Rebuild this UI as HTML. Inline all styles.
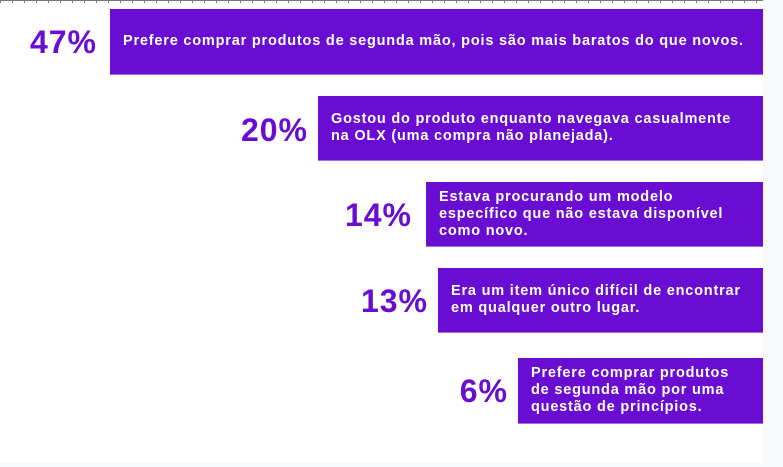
<!DOCTYPE html>
<html><head><style>
body{margin:0;width:783px;height:467px;background:#f7f8fa;position:relative;overflow:hidden;font-family:"Liberation Sans",sans-serif}
#main{position:absolute;left:0;top:0;width:763px;height:463px;background:#fff}
#ticks{position:absolute;left:0;top:0;width:763px;height:3px;background:repeating-linear-gradient(90deg,#777 0 1px,transparent 1px 12px);border-top:1px solid #777;box-sizing:border-box}
.bar{position:absolute;right:0;background:#6a0dd2;color:#fff;font-weight:bold;font-size:14.5px;letter-spacing:0.8px;line-height:17px;display:flex;align-items:center;padding-left:13px;box-sizing:border-box;border-bottom:1px solid #a070e0;white-space:nowrap}
.pct{position:absolute;color:#6a0dd2;font-weight:bold;font-size:32px;letter-spacing:1px;text-align:right;width:100px}
</style></head><body>
<div id="main"><div id="ticks"></div>
<div class="pct" style="left:-3px;top:24px">47%</div>
<div class="bar" style="left:110px;top:9px;height:66px">Prefere comprar produtos de segunda mão, pois são mais baratos do que novos.</div>
<div class="pct" style="left:208px;top:112px">20%</div>
<div class="bar" style="left:318px;top:96px;height:65px">Gostou do produto enquanto navegava casualmente<br>na OLX (uma compra não planejada).</div>
<div class="pct" style="left:312px;top:197px">14%</div>
<div class="bar" style="left:426px;top:182px;height:65px">Estava procurando um modelo<br>específico que não estava disponível<br>como novo.</div>
<div class="pct" style="left:328px;top:283px">13%</div>
<div class="bar" style="left:438px;top:268px;height:65px">Era um item único difícil de encontrar<br>em qualquer outro lugar.</div>
<div class="pct" style="left:408px;top:373px">6%</div>
<div class="bar" style="left:518px;top:358px;height:66px">Prefere comprar produtos<br>de segunda mão por uma<br>questão de princípios.</div>
</div>
</body></html>
